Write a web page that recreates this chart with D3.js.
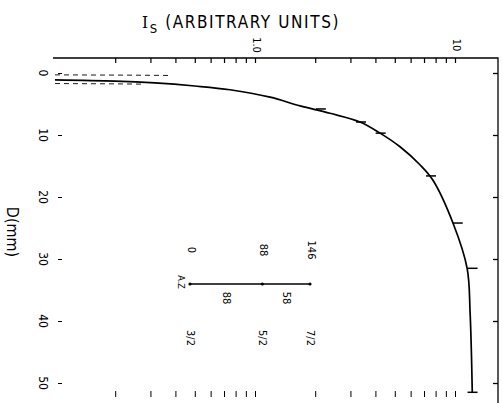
<!DOCTYPE html>
<html>
<head>
<meta charset="utf-8">
<script src="https://cdn.jsdelivr.net/npm/d3@7.9.0/dist/d3.min.js"></script>
<style>
  body { margin: 0; background: #fff; }
  svg { display: block; }
  text { font-family: "DejaVu Sans", sans-serif; font-stretch: condensed; fill: #000; }
</style>
</head>
<body>
<svg id="chart" width="503" height="403"></svg>
<script>
// I_s (log) against depth D in mm
const intensity = [0.1, 0.2, 0.316, 0.5, 0.75, 1.19, 1.68, 2.37, 3.35, 4.22, 5.31, 6.68, 7.76, 9.77, 11.5, 11.9, 12.2];
const depth     = [1.1, 1.3, 1.6, 2.1, 2.7, 3.9, 5.3, 6.5, 7.9, 9.7, 11.9, 14.8, 17.3, 24.2, 31.5, 38.7, 51.5];

// short horizontal marks sitting on the curve
const markI = [2.11, 3.35, 4.2, 7.5, 10.2, 12.1, 12.1];
const markD = [5.8, 7.9, 9.7, 16.6, 24.2, 31.5, 51.5];

// faint traces hugging D = 0 at the left
const traceI = [0.1, 0.25, 0.38];
const traceD = [0.3, 0.35, 0.4];
const trace2I = [0.1, 0.2, 0.28];
const trace2D = [1.7, 1.75, 1.8];

const xTicks = [0.2, 0.3, 0.4, 0.5, 0.6, 0.7, 0.8, 0.9, 1, 2, 3, 4, 5, 6, 7, 8, 9, 10];
const xLabels = [{ v: 1, t: '1.0' }, { v: 10, t: '10' }];
const yTicks = [0, 10, 20, 30, 40, 50];

// level scheme drawn inside the plot
const levelEnergy = [0, 88, 146];
const levelSpin = ['3/2', '5/2', '7/2'];
const transitions = [88, 58];

const svg = d3.select('#chart');

const x = d3.scaleLog().domain([0.1, 10]).range([55, 455]);
const y = d3.scaleLinear().domain([0, 50]).range([73, 383]);

const frameTop = 58, frameRight = 498, frameLeft = 53;

// frame: top and right lines
svg.append('path')
  .attr('d', `M${frameLeft},${frameTop}H${frameRight}V403`)
  .attr('fill', 'none')
  .attr('stroke', '#000')
  .attr('stroke-width', 1.3);

// top axis ticks (pointing into the plot)
const topAxis = svg.append('g')
  .attr('transform', `translate(0,${frameTop})`)
  .call(d3.axisTop(x).tickValues(xTicks).tickSizeInner(-5).tickSizeOuter(0).tickFormat(''));
topAxis.select('.domain').remove();
topAxis.selectAll('line').attr('stroke-width', 1.2);

xLabels.forEach((d) => {
  svg.append('text')
    .attr('transform', `translate(${x(d.v) + 1},45) rotate(90)`)
    .attr('text-anchor', 'middle')
    .attr('dominant-baseline', 'central')
    .attr('font-size', 11)
    .text(d.t);
});

// bottom ticks, no line
const bottomAxis = svg.append('g')
  .attr('transform', 'translate(0,391)')
  .call(d3.axisBottom(x).tickValues(xTicks).tickSizeInner(6).tickSizeOuter(0).tickFormat(''));
bottomAxis.select('.domain').remove();
bottomAxis.selectAll('line').attr('stroke-width', 1);

// left ticks and labels
const leftAxis = svg.append('g')
  .attr('transform', 'translate(62,0)')
  .call(d3.axisLeft(y).tickValues(yTicks).tickSize(4).tickFormat(''));
leftAxis.select('.domain').remove();

yTicks.forEach((v) => {
  svg.append('text')
    .attr('transform', `translate(43,${y(v)}) rotate(90)`)
    .attr('text-anchor', 'middle')
    .attr('dominant-baseline', 'central')
    .attr('font-size', 12)
    .text(v);
});

// right ticks
const rightAxis = svg.append('g')
  .attr('transform', `translate(${frameRight},0)`)
  .call(d3.axisRight(y).tickValues(yTicks).tickSize(-5).tickFormat(''));
rightAxis.select('.domain').remove();
rightAxis.selectAll('line').attr('stroke-width', 1.3);

// titles
const title = svg.append('text')
  .attr('x', 241)
  .attr('y', 28)
  .attr('text-anchor', 'middle')
  .attr('font-size', 17)
  .attr('letter-spacing', 1.6);
title.append('tspan').attr('font-family', 'DejaVu Serif').text('I');
title.append('tspan').attr('font-size', 13).attr('dy', 5).text('S');
title.append('tspan').attr('dy', -5).text(' (ARBITRARY UNITS)');

svg.append('text')
  .attr('transform', 'translate(12,232) rotate(90)')
  .attr('text-anchor', 'middle')
  .attr('dominant-baseline', 'central')
  .attr('font-size', 16)
  .text('D(mm)');

// faint traces near the top edge
[[traceI, traceD], [trace2I, trace2D]].forEach(([ti, td]) => {
  svg.append('path')
    .datum(ti.map((v, i) => ({ i: v, d: td[i] })))
    .attr('d', d3.line().x((d) => x(d.i)).y((d) => y(d.d)))
    .attr('fill', 'none')
    .attr('stroke', '#000')
    .attr('stroke-width', 0.9)
    .attr('stroke-dasharray', '5,4');
});

// main curve
const pts = intensity.map((v, i) => ({ i: v, d: depth[i] }));
svg.append('path')
  .datum(pts)
  .attr('d', d3.line().x((d) => x(d.i)).y((d) => y(d.d)).curve(d3.curveCatmullRom))
  .attr('fill', 'none')
  .attr('stroke', '#000')
  .attr('stroke-width', 1.7);

// marks
const marks = markI.map((v, i) => ({ i: v, d: markD[i] }));
svg.append('g').selectAll('line')
  .data(marks)
  .join('line')
  .attr('x1', (d) => x(d.i) - 4)
  .attr('x2', (d) => x(d.i) + 6)
  .attr('y1', (d) => y(d.d))
  .attr('y2', (d) => y(d.d))
  .attr('stroke', '#000')
  .attr('stroke-width', 1.5);

// level scheme
const e = d3.scaleLinear().domain([0, 146]).range([190, 310]);
const lineY = 284;

svg.append('line')
  .attr('x1', e(0)).attr('x2', e(146))
  .attr('y1', lineY).attr('y2', lineY)
  .attr('stroke', '#000')
  .attr('stroke-width', 1.4);

svg.append('g').selectAll('circle')
  .data(levelEnergy)
  .join('circle')
  .attr('cx', (d) => e(d))
  .attr('cy', lineY)
  .attr('r', 1.6)
  .attr('fill', '#000');

levelEnergy.forEach((v, i) => {
  svg.append('text')
    .attr('transform', `translate(${e(v) + 1},250) rotate(90)`)
    .attr('text-anchor', 'middle')
    .attr('dominant-baseline', 'central')
    .attr('font-size', 11)
    .text(v);
  svg.append('text')
    .attr('transform', `translate(${e(v)},338) rotate(90)`)
    .attr('text-anchor', 'middle')
    .attr('dominant-baseline', 'central')
    .attr('font-size', 11)
    .text(levelSpin[i]);
});

transitions.forEach((t, i) => {
  const mid = (e(levelEnergy[i]) + e(levelEnergy[i + 1])) / 2;
  svg.append('text')
    .attr('transform', `translate(${mid},298) rotate(90)`)
    .attr('text-anchor', 'middle')
    .attr('dominant-baseline', 'central')
    .attr('font-size', 11)
    .text(t);
});

svg.append('text')
  .attr('transform', `translate(${e(0) - 9},${lineY - 2}) rotate(90)`)
  .attr('text-anchor', 'middle')
  .attr('dominant-baseline', 'central')
  .attr('font-size', 9)
  .text('A.Z');
</script>
</body>
</html>
